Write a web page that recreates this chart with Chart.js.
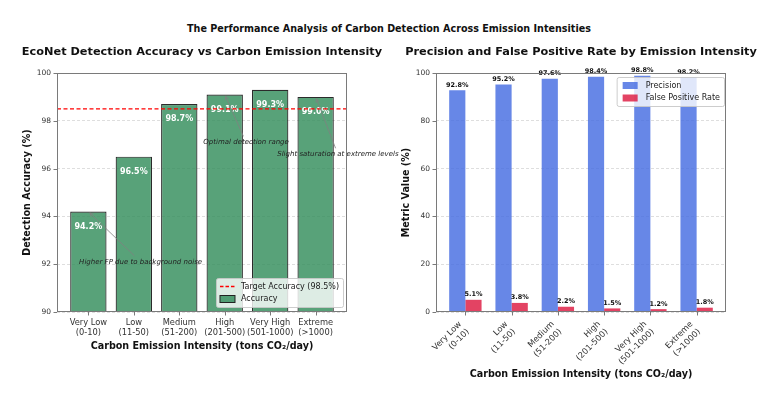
<!DOCTYPE html>
<html>
<head>
<meta charset="utf-8">
<script src="https://cdn.jsdelivr.net/npm/chart.js@4.4.1/dist/chart.umd.min.js"></script>
<style>
  body { margin: 0; background: #fff; width: 776px; height: 397px; overflow: hidden; position: relative; font-family: "DejaVu Sans"; }
  #suptitle { position: absolute; top: 23px; left: 0; width: 778px; text-align: center; font-weight: bold; font-size: 9.6px; color: #111; }
  #left { position: absolute; left: 0; top: 0; z-index: 2; }
  #right { position: absolute; left: 390px; top: 0; z-index: 1; }
</style>
</head>
<body>
<div id="suptitle">The Performance Analysis of Carbon Detection Across Emission Intensities</div>
<canvas id="left" width="420" height="397" style="width:420px;height:397px"></canvas>
<canvas id="right" width="386" height="397" style="width:386px;height:397px"></canvas>
<script>
var intensityLevels = ['Very Low', 'Low', 'Medium', 'High', 'Very High', 'Extreme'];
var intensityRanges = ['(0-10)', '(11-50)', '(51-200)', '(201-500)', '(501-1000)', '(>1000)'];
var accuracy = [94.2, 96.5, 98.7, 99.1, 99.3, 99.0];
var precision = [92.8, 95.2, 97.6, 98.4, 98.8, 98.2];
var falsePositiveRate = [5.1, 3.8, 2.2, 1.5, 1.2, 1.8];
var targetAccuracy = 98.5;
var accuracyTicks = [90, 92, 94, 96, 98, 100];
var metricTicks = [0, 20, 40, 60, 80, 100];

Chart.defaults.font.family = '"DejaVu Sans"';
Chart.defaults.color = '#333';
Chart.defaults.animation = false;

var GREEN = 'rgba(46,139,87,0.8)';
var BLUE = 'rgba(65,105,225,0.8)';
var RED = 'rgba(220,20,60,0.8)';

function points(values) {
  return values.map(function(v, i) { return { x: i, y: v }; });
}

function categoryTicks(scale) {
  scale.ticks = intensityLevels.map(function(c, i) { return { value: i }; });
}

// subplot title centred over the axes, like matplotlib
function axesTitle(chart, text) {
  var a = chart.chartArea, ctx = chart.ctx;
  ctx.save();
  ctx.fillStyle = '#111';
  ctx.font = 'bold 11.3px "DejaVu Sans"';
  ctx.textAlign = 'center';
  ctx.textBaseline = 'middle';
  ctx.fillText(text, (a.left + a.right) / 2, 52);
  ctx.restore();
}

function frame(chart) {
  var a = chart.chartArea, ctx = chart.ctx;
  ctx.save();
  ctx.strokeStyle = '#7a7a7a';
  ctx.lineWidth = 1;
  ctx.setLineDash([]);
  ctx.strokeRect(a.left + 0.5, a.top + 0.5, a.right - a.left - 1, a.bottom - a.top - 1);
  // small outward tick marks
  var x = chart.scales.x, y = chart.scales.y;
  ctx.beginPath();
  x.ticks.forEach(function(t) {
    var px = Math.round(x.getPixelForValue(t.value)) + 0.5;
    ctx.moveTo(px, a.bottom); ctx.lineTo(px, a.bottom + 3.5);
  });
  y.ticks.forEach(function(t) {
    var py = Math.round(y.getPixelForValue(t.value)) + 0.5;
    ctx.moveTo(a.left, py); ctx.lineTo(a.left - 3.5, py);
  });
  ctx.stroke();
  ctx.restore();
}

function legendBox(ctx, right, top, rows, extra) {
  var w = 0;
  ctx.save();
  ctx.font = '8px "DejaVu Sans"';
  rows.forEach(function(r) { w = Math.max(w, ctx.measureText(r.label).width); });
  var bw = w + 29 + extra, bh = rows.length * 12.5 + 4, left = right - bw;
  ctx.fillStyle = 'rgba(255,255,255,0.8)';
  ctx.strokeStyle = 'rgba(200,200,200,0.9)';
  ctx.lineWidth = 1;
  ctx.beginPath();
  ctx.roundRect(left + 0.5, top + 0.5, bw, bh, 2);
  ctx.fill(); ctx.stroke();
  rows.forEach(function(r, i) {
    var cy = top + 8.5 + i * 12.5;
    if (r.kind === 'line') {
      ctx.strokeStyle = r.color; ctx.lineWidth = 1.4; ctx.setLineDash([3.5, 2]);
      ctx.beginPath(); ctx.moveTo(left + 4, cy); ctx.lineTo(left + 19, cy); ctx.stroke();
      ctx.setLineDash([]);
    } else {
      ctx.fillStyle = r.color;
      ctx.fillRect(left + 4 + extra / 2, cy - 3.5, 15, 7);
      if (r.edge) { ctx.strokeStyle = r.edge; ctx.lineWidth = 1; ctx.strokeRect(left + 4, cy - 3.5, 15, 7); }
    }
    ctx.fillStyle = '#222'; ctx.textAlign = 'left'; ctx.textBaseline = 'middle';
    ctx.fillText(r.label, left + 25 + extra, cy);
  });
  ctx.restore();
}

// text notes on the accuracy chart, each pointing at one bar
var accuracyNotes = [
  { text: 'Higher FP due to background noise', bar: 0, tx: 1.15, ty: 92.1 },
  { text: 'Optimal detection range', bar: 3, tx: 3.47, ty: 97.1 },
  { text: 'Slight saturation at extreme levels', bar: 5, tx: 5.49, ty: 96.6 }
];

var accuracyExtras = {
  id: 'accuracyExtras',
  afterDatasetsDraw: function(chart) {
    var ctx = chart.ctx, x = chart.scales.x, y = chart.scales.y, a = chart.chartArea;
    ctx.save();
    // value labels inside bars
    ctx.fillStyle = '#fff';
    ctx.font = 'bold 8px "DejaVu Sans"';
    ctx.textAlign = 'center';
    ctx.textBaseline = 'middle';
    accuracy.forEach(function(v, i) {
      ctx.fillText(v.toFixed(1) + '%', x.getPixelForValue(i), y.getPixelForValue(v) + 15);
    });
    // target line
    var ty = y.getPixelForValue(targetAccuracy);
    ctx.strokeStyle = 'red';
    ctx.lineWidth = 1.4;
    ctx.setLineDash([4, 2.5]);
    ctx.beginPath(); ctx.moveTo(a.left, ty); ctx.lineTo(a.right, ty); ctx.stroke();
    ctx.setLineDash([]);
    // notes with arrows
    ctx.font = 'italic 7px "DejaVu Sans"';
    accuracyNotes.forEach(function(n) {
      var px = x.getPixelForValue(n.bar), py = y.getPixelForValue(accuracy[n.bar]);
      var cx = x.getPixelForValue(n.tx), cy = y.getPixelForValue(n.ty);
      var hw = ctx.measureText(n.text).width / 2 + 2, hh = 6;
      var dx = cx - px, dy = cy - py;
      var s = 1 - Math.min(Math.abs(dx) > 0 ? hw / Math.abs(dx) : 1, Math.abs(dy) > 0 ? hh / Math.abs(dy) : 1);
      var len = Math.sqrt(dx * dx + dy * dy), ux = dx / len, uy = dy / len;
      var sx = px + ux * 2, sy = py + uy * 2;
      ctx.strokeStyle = '#808080';
      ctx.lineWidth = 0.8;
      ctx.beginPath(); ctx.moveTo(sx, sy); ctx.lineTo(px + dx * s, py + dy * s); ctx.stroke();
      var ang = Math.atan2(uy, ux);
      ctx.beginPath();
      ctx.moveTo(sx + 4 * Math.cos(ang + 0.45), sy + 4 * Math.sin(ang + 0.45));
      ctx.lineTo(sx, sy);
      ctx.lineTo(sx + 4 * Math.cos(ang - 0.45), sy + 4 * Math.sin(ang - 0.45));
      ctx.stroke();
      ctx.fillStyle = '#222';
      ctx.textAlign = 'center';
      ctx.textBaseline = 'middle';
      ctx.fillText(n.text, cx, cy);
    });
    ctx.restore();
  },
  afterDraw: function(chart) {
    frame(chart);
    axesTitle(chart, 'EcoNet Detection Accuracy vs Carbon Emission Intensity');
    var a = chart.chartArea;
    legendBox(chart.ctx, a.right - 4, a.bottom - 34, [
      { kind: 'line', color: 'red', label: 'Target Accuracy (' + targetAccuracy + '%)' },
      { kind: 'box', color: GREEN, edge: '#222', label: 'Accuracy' }
    ], 0);
  }
};

var metricExtras = {
  id: 'metricExtras',
  afterDatasetsDraw: function(chart) {
    var ctx = chart.ctx, y = chart.scales.y;
    ctx.save();
    ctx.fillStyle = '#111';
    ctx.font = 'bold 6.5px "DejaVu Sans"';
    ctx.textAlign = 'center';
    ctx.textBaseline = 'bottom';
    [precision, falsePositiveRate].forEach(function(vals, d) {
      var meta = chart.getDatasetMeta(d);
      vals.forEach(function(v, i) {
        ctx.fillText(v.toFixed(1) + '%', meta.data[i].x, y.getPixelForValue(v) - 2);
      });
    });
    ctx.restore();
  },
  afterDraw: function(chart) {
    frame(chart);
    axesTitle(chart, 'Precision and False Positive Rate by Emission Intensity');
    var a = chart.chartArea;
    legendBox(chart.ctx, a.right - 2, a.top + 4, [
      { kind: 'box', color: BLUE, label: 'Precision' },
      { kind: 'box', color: RED, label: 'False Positive Rate' }
    ], 4);
  }
};

function axisTitle(text, pad) {
  return { display: true, text: text, color: '#111', font: { size: 9.6, weight: 'bold' }, padding: pad };
}

new Chart(document.getElementById('left'), {
  type: 'bar',
  data: {
    datasets: [{
      label: 'Accuracy',
      data: points(accuracy),
      backgroundColor: GREEN,
      borderColor: 'rgba(20,20,20,0.9)',
      borderWidth: 1.2,
      categoryPercentage: 0.8,
      barPercentage: 1.0
    }]
  },
  options: {
    responsive: false,
    layout: { padding: { left: 0, right: 73, top: 73, bottom: 0 } },
    plugins: {
      legend: { display: false },
      tooltip: { enabled: false },
      title: { display: false }
    },
    scales: {
      x: {
        type: 'linear',
        offset: false,
        min: -0.69,
        max: 5.69,
        afterBuildTicks: categoryTicks,
        afterFit: function(s) { s.height = 85; },
        grid: { display: false, drawTicks: false },
        border: { display: false },
        ticks: {
          autoSkip: false, maxRotation: 0, padding: 5, font: { size: 8.3, lineHeight: 1.3 },
          callback: function(v) { return [intensityLevels[v], intensityRanges[v]]; }
        },
        title: axisTitle('Carbon Emission Intensity (tons CO\u2082/day)', { bottom: 45 })
      },
      y: {
        min: 90,
        max: 100,
        afterBuildTicks: function(s) { s.ticks = accuracyTicks.map(function(v) { return { value: v }; }); },
        afterFit: function(s) { s.width = 57; },
        grid: { color: 'rgba(0,0,0,0.13)', drawTicks: false },
        border: { display: false, dash: [3, 2] },
        ticks: { padding: 6, font: { size: 7.5 } },
        title: axisTitle('Detection Accuracy (%)', { top: 22 })
      }
    }
  },
  plugins: [accuracyExtras]
});

new Chart(document.getElementById('right'), {
  type: 'bar',
  data: {
    datasets: [{
      label: 'Precision',
      data: points(precision),
      backgroundColor: BLUE,
      categoryPercentage: 0.7,
      barPercentage: 1.0
    }, {
      label: 'False Positive Rate',
      data: points(falsePositiveRate),
      backgroundColor: RED,
      categoryPercentage: 0.7,
      barPercentage: 1.0
    }]
  },
  options: {
    responsive: false,
    layout: { padding: { left: 0, right: 50, top: 73, bottom: 0 } },
    plugins: {
      legend: { display: false },
      tooltip: { enabled: false },
      title: { display: false }
    },
    scales: {
      x: {
        type: 'linear',
        offset: false,
        min: -0.635,
        max: 5.635,
        afterBuildTicks: categoryTicks,
        afterFit: function(s) { s.height = 85; },
        grid: { display: false, drawTicks: false },
        border: { display: false },
        ticks: {
          autoSkip: false, minRotation: 45, maxRotation: 45, padding: 7, labelOffset: -5,
          font: { size: 8.3, lineHeight: 1.3 },
          callback: function(v) { return [intensityLevels[v], intensityRanges[v]]; }
        },
        title: axisTitle('Carbon Emission Intensity (tons CO\u2082/day)', { bottom: 17 })
      },
      y: {
        min: 0,
        max: 100,
        afterBuildTicks: function(s) { s.ticks = metricTicks.map(function(v) { return { value: v }; }); },
        afterFit: function(s) { s.width = 46; },
        grid: { color: 'rgba(0,0,0,0.13)', drawTicks: false },
        border: { display: false, dash: [3, 2] },
        ticks: { padding: 6, font: { size: 7.5 } },
        title: axisTitle('Metric Value (%)', { top: 11 })
      }
    }
  },
  plugins: [metricExtras]
});
</script>
</body>
</html>
